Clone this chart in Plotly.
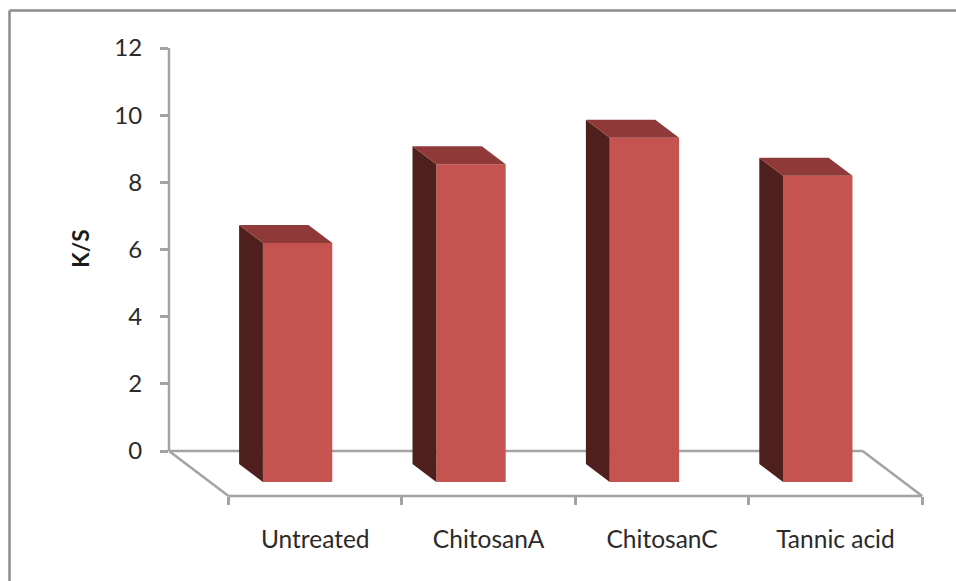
import plotly.graph_objects as go

# Chart data
categories = ["Untreated", "ChitosanA", "ChitosanC", "Tannic acid"]
ks_values = [7.12, 9.46, 10.25, 9.12]
y_ticks = [0, 2, 4, 6, 8, 10, 12]

# Oblique projection: depth 0 is the back wall, depth 1 the front of the floor
DEPTH_X = 0.3434
DEPTH_Y = 1.338
BAR_WIDTH = 0.40
BAR_CENTER = 0.505
DEPTH_FRONT = 0.689
DEPTH_BACK = 0.289

FRONT_COLOR = "#C5534F"
SIDE_COLOR = "#4F1F1D"
TOP_COLOR = "#8F3A38"
AXIS_COLOR = "#A3A3A3"
FRAME_COLOR = "#8C8C8C"
TEXT_COLOR = "#2A2A2A"
FONT = "Lato"

W, H = 956, 581
L, R, T, B = 169, 26, 47.5, 85
plot_w = W - L - R
plot_h = H - T - B
X_MAX = plot_w / 173.4


def project(u, value, depth):
    return u + depth * DEPTH_X, value - depth * DEPTH_Y


def paper_x(px):
    return (px - L) / plot_w


def paper_y(py):
    return 1 - (py - T) / plot_h


def data_to_paper(x, y):
    return x / X_MAX, (y + DEPTH_Y) / (12 + DEPTH_Y)


def outline(p0, p1):
    # Paper-referenced strokes are not clipped at the plot edge
    (x0, y0), (x1, y1) = data_to_paper(*p0), data_to_paper(*p1)
    return dict(type="line", xref="paper", yref="paper", x0=x0, x1=x1, y0=y0, y1=y1,
                line=dict(color=AXIS_COLOR, width=2.5))


fig = go.Figure()

# Front faces
front_x = [i + BAR_CENTER + DEPTH_FRONT * DEPTH_X for i in range(len(categories))]
fig.add_trace(go.Bar(
    x=front_x,
    y=ks_values,
    base=[-DEPTH_FRONT * DEPTH_Y] * len(ks_values),
    width=BAR_WIDTH,
    marker=dict(color=FRONT_COLOR, line=dict(width=0)),
    hoverinfo="skip",
))

# Side and top faces of each bar
for i, v in enumerate(ks_values):
    left = i + BAR_CENTER - BAR_WIDTH / 2
    right = left + BAR_WIDTH
    side = [project(left, 0, DEPTH_FRONT), project(left, v, DEPTH_FRONT),
            project(left, v, DEPTH_BACK), project(left, 0, DEPTH_BACK)]
    top = [project(left, v, DEPTH_FRONT), project(right, v, DEPTH_FRONT),
           project(right, v, DEPTH_BACK), project(left, v, DEPTH_BACK)]
    for face, color in ((side, SIDE_COLOR), (top, TOP_COLOR)):
        fig.add_trace(go.Scatter(
            x=[p[0] for p in face] + [face[0][0]],
            y=[p[1] for p in face] + [face[0][1]],
            mode="lines",
            line=dict(width=0, color=color),
            fill="toself",
            fillcolor=color,
            hoverinfo="skip",
        ))

n = len(categories)
shapes = [
    # Back edge of the floor passes behind the bars
    dict(type="line", layer="below", xref="x", yref="y", x0=0, x1=n, y0=0, y1=0,
         line=dict(color=AXIS_COLOR, width=2.5)),
    # Value axis line
    outline((0, y_ticks[0]), (0, y_ticks[-1])),
    # Remaining floor edges
    outline((0, 0), (DEPTH_X, -DEPTH_Y)),
    outline((DEPTH_X, -DEPTH_Y), (n + DEPTH_X, -DEPTH_Y)),
    outline((n + DEPTH_X, -DEPTH_Y), (n, 0)),
    # Chart frame: only the top and left edges are present
    dict(type="line", xref="paper", yref="paper",
         x0=paper_x(9.5), x1=paper_x(W), y0=paper_y(10), y1=paper_y(10),
         line=dict(color=FRAME_COLOR, width=2.5)),
    dict(type="line", xref="paper", yref="paper",
         x0=paper_x(9.5), x1=paper_x(9.5), y0=paper_y(10), y1=paper_y(H),
         line=dict(color=FRAME_COLOR, width=2.5)),
]

fig.update_layout(
    width=W,
    height=H,
    margin=dict(l=L, r=R, t=T, b=B, autoexpand=False),
    paper_bgcolor="white",
    plot_bgcolor="rgba(0,0,0,0)",
    showlegend=False,
    shapes=shapes,
    font=dict(family=FONT, color=TEXT_COLOR),
    xaxis=dict(
        range=[0, X_MAX],
        showgrid=False,
        zeroline=False,
        showline=False,
        tickmode="array",
        tickvals=[i + 0.5 + DEPTH_X for i in range(n)],
        ticktext=categories,
        ticks="",
        ticklabelstandoff=26,
        tickfont=dict(family=FONT, size=24.5, color=TEXT_COLOR),
        minor=dict(
            tickmode="array",
            tickvals=[i + DEPTH_X for i in range(n + 1)],
            ticks="outside",
            ticklen=8,
            tickwidth=2.5,
            tickcolor=AXIS_COLOR,
            showgrid=False,
        ),
    ),
    yaxis=dict(
        range=[-DEPTH_Y, 12],
        showgrid=False,
        zeroline=False,
        showline=False,
        tickmode="array",
        tickvals=y_ticks,
        ticks="outside",
        ticklen=8,
        tickwidth=2.5,
        tickcolor=AXIS_COLOR,
        ticklabelstandoff=13,
        tickfont=dict(family=FONT, size=24, color=TEXT_COLOR),
    ),
    annotations=[dict(
        text="<b>K/S</b>",
        textangle=-90,
        xref="paper", yref="paper",
        x=paper_x(81), y=paper_y(248.5),
        xanchor="center", yanchor="middle",
        showarrow=False,
        font=dict(family=FONT, size=22.5, color="#1A1A1A"),
    )],
)

fig.write_html("out.html")
